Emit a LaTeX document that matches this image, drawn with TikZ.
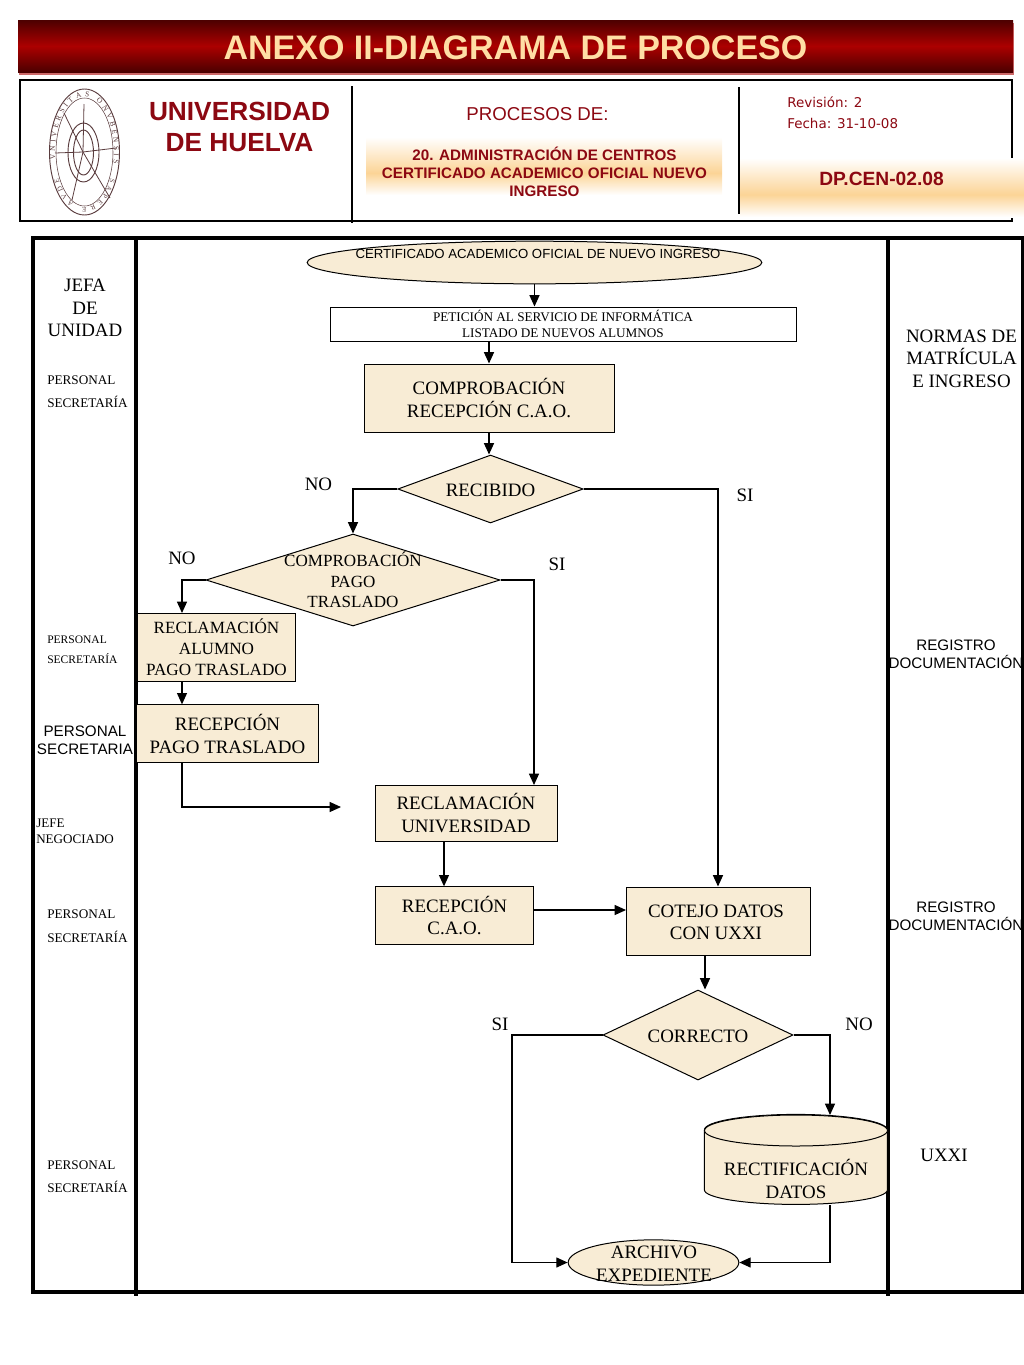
\documentclass[tikz,border=0pt]{standalone}
\usepackage{fontspec}
\setmainfont{Liberation Serif}
\setsansfont{Liberation Sans}
\newfontfamily\revfont{DejaVu Sans}
\usepackage{tikz}
\usetikzlibrary{shapes.geometric}
\usetikzlibrary{arrows.meta}
\usetikzlibrary{decorations.text}
\definecolor{boxfill}{RGB}{248,236,213}
\definecolor{barred}{RGB}{172,0,0}
\definecolor{bardark}{RGB}{76,0,0}
\definecolor{barshadow}{RGB}{205,105,105}
\definecolor{titletext}{RGB}{255,222,165}
\definecolor{headred}{RGB}{140,8,18}
\definecolor{softorange}{RGB}{252,212,150}
\definecolor{logoline}{RGB}{90,60,62}
\pgfdeclareverticalshading{fadeshade}{100bp}{color(0bp)=(white); color(25bp)=(white); color(44bp)=(softorange); color(75bp)=(white); color(100bp)=(white)}
\tikzset{
  flow/.style={-{Triangle[length=8.5pt,width=7.5pt]},line width=0.9pt},
  procbox/.style={draw,fill=boxfill,line width=0.75pt,inner sep=0pt,align=center,font=\fontsize{14.2}{17.2}\selectfont},
  decision/.style={diamond,draw,fill=boxfill,line width=0.75pt,inner sep=0pt,aspect=2},
  terminal/.style={ellipse,draw,fill=boxfill,line width=0.75pt,inner sep=0pt},
  lanetext/.style={inner sep=0pt,align=center,font=\fontsize{14.2}{17}\selectfont},
  smalltext/.style={inner sep=0pt,align=left,anchor=west,font=\fontsize{9.9}{17.5}\selectfont},
  sanstext/.style={inner sep=0pt,align=center,font=\sffamily\fontsize{11.4}{13.5}\selectfont},
  fadebox/.style={inner sep=0pt,shading=fadeshade},
}
\begin{document}
\begin{tikzpicture}[x=0.75pt,y=0.75pt,yscale=-1,xscale=1]
\useasboundingbox (0,0) rectangle (1024,1365);

%Title bar
\fill [barshadow] (19,23) rectangle (1014,74.5);
\path [top color=bardark,bottom color=bardark,middle color=barred] (18,20) rectangle (1013,72);
\node (title) [inner sep=0pt,text=titletext,font=\sffamily\bfseries\fontsize{25.5}{30}\selectfont] at (515.5,48) {ANEXO II-DIAGRAMA DE PROCESO};

%Header frame
\draw [line width=0.8pt] (20,80) rectangle (1012,221);
\draw [line width=0.8pt] (352,86) -- (352,223);
\draw [line width=0.8pt] (739,87) -- (739,214);

%Logo
\begin{scope}[logoline]
\draw [line width=0.7pt] (84.5,152) ellipse [x radius=35,y radius=63];
\draw [line width=0.4pt] (84.5,152) ellipse [x radius=28.5,y radius=54];
\draw [line width=0.7pt] (83.5,152.5) ellipse [x radius=15.5,y radius=29.5];
\draw [line width=0.7pt] (83.5,152.5) ellipse [x radius=10,y radius=22.5];
\draw [line width=0.6pt] (55,153) -- (83,152) -- (116,148);
\draw [line width=0.6pt] (84,104) -- (83,152) -- (110,198);
\draw [line width=0.6pt] (64,113) -- (83,152) -- (72,200);
\path [decorate,decoration={text along path,text align={fit to path},text color=logoline,
  text={|\fontsize{5.6}{6}\selectfont|VNIVERSITAS ONVBENSIS}}]
  (84.5,152) ++(172:29.5 and 55.5) arc [start angle=172,end angle=372,x radius=29.5,y radius=55.5];
\path [decorate,decoration={text along path,text align={fit to path},text color=logoline,
  text={|\fontsize{5.2}{6}\selectfont|SAPERE AVDE}}]
  (84.5,152) ++(28:29.5 and 55.5) arc [start angle=28,end angle=152,x radius=29.5,y radius=55.5];
\end{scope}

%University name
\node (uni) [inner sep=0pt,align=center,text=headred,font=\sffamily\bfseries\fontsize{19.7}{23.5}\selectfont] at (239.5,127) {UNIVERSIDAD\\DE HUELVA};

%Process name
\node (procde) [inner sep=0pt,text=headred,font=\sffamily\fontsize{14}{16}\selectfont] at (537.5,114) {PROCESOS DE:};
\path [fadebox] (366,137) rectangle (722,195);
\node (procname) [inner sep=0pt,align=center,text=headred,font=\sffamily\bfseries\fontsize{11.4}{13.5}\selectfont] at (544.5,171.5) {20. ADMINISTRACIÓN DE CENTROS\\CERTIFICADO ACADEMICO OFICIAL NUEVO\\INGRESO};

%Revision
\node (rev) [inner sep=0pt,anchor=west,align=left,text=headred,font=\revfont\fontsize{10.1}{15.7}\selectfont] at (787,112.5) {Revisión: 2\\Fecha: 31-10-08};
\path [fadebox] (740,158) rectangle (1024,217);
\node (code) [inner sep=0pt,text=headred,font=\sffamily\bfseries\fontsize{14.4}{16}\selectfont] at (881.5,178.5) {DP.CEN-02.08};

%Lanes
\draw [line width=3pt] (33,238) rectangle (1023,1292);
\draw [line width=3pt] (136,238) -- (136,1296);
\draw [line width=3pt] (888,238) -- (888,1296);

%Flow shapes
\node (inicio) [terminal,minimum width=341pt,minimum height=32pt] at (534.5,262.5) {};
\node (peticion) [draw,fill=white,line width=0.75pt,inner sep=0pt,minimum width=349.5pt,minimum height=25.5pt,align=center,font=\fontsize{9.9}{12}\selectfont] at (563,324) {PETICIÓN AL SERVICIO DE INFORMÁTICA\\LISTADO DE NUEVOS ALUMNOS};
\node (comprueba) [procbox,minimum width=187.5pt,minimum height=51pt] at (489,398) {COMPROBACIÓN\\RECEPCIÓN C.A.O.};
\node (recibido) [decision,minimum width=139pt,minimum height=51pt] at (490.5,489) {};
\node (pago) [decision,aspect=3.2,minimum width=220.5pt,minimum height=69pt] at (353,580) {};
\node (reclama) [procbox,minimum width=119pt,minimum height=51pt,font=\fontsize{12.85}{15.7}\selectfont] at (216.5,647.5) {RECLAMACIÓN\\ALUMNO\\PAGO TRASLADO};
\node (recepago) [procbox,minimum width=136pt,minimum height=43pt] at (227.5,733.5) {RECEPCIÓN\\PAGO TRASLADO};
\node (univ) [procbox,minimum width=136.5pt,minimum height=42pt] at (466,813) {RECLAMACIÓN\\UNIVERSIDAD};
\node (recao) [procbox,minimum width=119pt,minimum height=43pt] at (454.5,915.5) {RECEPCIÓN\\C.A.O.};
\node (cotejo) [draw,fill=boxfill,line width=0.75pt,inner sep=0pt,minimum width=138pt,minimum height=51pt] at (718,921) {};
\node (correcto) [decision,minimum width=142.5pt,minimum height=67.5pt] at (698,1035) {};
\node (archivo) [terminal,minimum width=128pt,minimum height=34pt] at (653.5,1262.5) {};

%Shape: Can
\node (rectifica) [inner sep=0pt,minimum width=137pt,minimum height=68pt] at (796,1160) {};
\draw [fill=boxfill,line width=0.75pt] (rectifica.north west) ++(0,15.5) arc [start angle=180,end angle=360,x radius=91.5,y radius=15.5] -- ++(0,60)
  arc [start angle=0,end angle=180,x radius=91.5,y radius=14.5] -- cycle;
\draw [fill=boxfill,line width=0.75pt] (796,1130.5) ellipse [x radius=91.5,y radius=15.5];

% Text Node
\node (inicitext) [inner sep=0pt,font=\sffamily\fontsize{9.9}{12}\selectfont] at (538,254) {CERTIFICADO ACADEMICO OFICIAL DE NUEVO INGRESO};
% Text Node
\node (archtext) [lanetext,font=\fontsize{14.2}{17.3}\selectfont] at (654,1263.5) {ARCHIVO\\EXPEDIENTE};
% Text Node
\node (rectext) [lanetext,font=\fontsize{14.2}{17.2}\selectfont] at (796,1179) {RECTIFICACIÓN\\DATOS};
% Text Node
\node (recitext) [lanetext] at (490.5,490) {RECIBIDO};
% Text Node
\node (pagotext) [lanetext,font=\fontsize{12.8}{15.4}\selectfont] at (353,580) {COMPROBACIÓN\\PAGO\\TRASLADO};
% Text Node
\node (cotetext) [lanetext,font=\fontsize{14.2}{16.5}\selectfont] at (716,922) {COTEJO DATOS\\CON UXXI};
% Text Node
\node (corrtext) [lanetext] at (698,1036) {CORRECTO};

%Free ends
\coordinate (pagoin) at (534,785);
\coordinate (freeend) at (341,807);
\coordinate (cylin) at (830,1115);
\coordinate (cylout) at (830,1205);
\coordinate (leftturn) at (512,1035);
\coordinate (sidex) at (182,0);
\coordinate (univx) at (444,0);
\coordinate (cotejox) at (705,0);
\coordinate (cotejoin) at (626,910);

%Connectors
\draw [flow] (inicio.south) -- (inicio.south |- peticion.north);
\draw [flow] (comprueba.north |- peticion.south) -- (comprueba.north);
\draw [flow] (comprueba.south) -- (comprueba.south |- recibido.north);
\draw [flow] (recibido.west) -| (pago.north);
\draw [flow] (recibido.east) -| (cotejo.north);
\draw [flow] (pago.west) -| (sidex |- reclama.north);
\draw [flow] (pago.east) -| (pagoin);
\draw [flow] (sidex |- reclama.south) -- (sidex |- recepago.north);
\draw [flow] (sidex |- recepago.south) |- (freeend);
\draw [flow] (univx |- univ.south) -- (univx |- recao.north);
\draw [flow] (recao.east |- cotejoin) -- (cotejoin);
\draw [flow] (cotejox |- cotejo.south) -- (cotejox |- correcto.north);
\draw [flow] (correcto.east) -| (cylin);
\draw [flow] (correcto.west) -- (leftturn) |- (archivo.west);
\draw [flow] (cylout) |- (archivo.east);

% Text Node
\node (no1) [lanetext] at (318.5,484.5) {NO};
% Text Node
\node (si1) [lanetext] at (745,495.5) {SI};
% Text Node
\node (no2) [lanetext] at (182,558.5) {NO};
% Text Node
\node (si2) [lanetext] at (557,564.5) {SI};
% Text Node
\node (si3) [lanetext] at (500,1024.5) {SI};
% Text Node
\node (no3) [lanetext] at (859,1024.5) {NO};

% Text Node
\node (jefa) [lanetext] at (85,308) {JEFA\\DE\\UNIDAD};
% Text Node
\node (pers1) [smalltext] at (47,391.5) {PERSONAL\\SECRETARÍA};
% Text Node
\node (pers2) [smalltext,font=\fontsize{8.65}{15}\selectfont] at (47,649.5) {PERSONAL\\SECRETARÍA};
% Text Node
\node (pers3) [sanstext] at (85,740) {PERSONAL\\SECRETARIA};
% Text Node
\node (jefe) [smalltext,font=\fontsize{9.8}{12}\selectfont] at (36,831) {JEFE\\NEGOCIADO};
% Text Node
\node (pers4) [smalltext,font=\fontsize{9.9}{18}\selectfont] at (47,926) {PERSONAL\\SECRETARÍA};
% Text Node
\node (pers5) [smalltext] at (47,1176.5) {PERSONAL\\SECRETARÍA};
% Text Node
\node (normas) [lanetext] at (961.5,358.5) {NORMAS DE\\MATRÍCULA\\E INGRESO};
% Text Node
\node (reg1) [sanstext] at (956,654) {REGISTRO\\DOCUMENTACIÓN};
% Text Node
\node (reg2) [sanstext] at (956,916) {REGISTRO\\DOCUMENTACIÓN};
% Text Node
\node (uxxi) [lanetext] at (944,1155.5) {UXXI};

\end{tikzpicture}
\end{document}
